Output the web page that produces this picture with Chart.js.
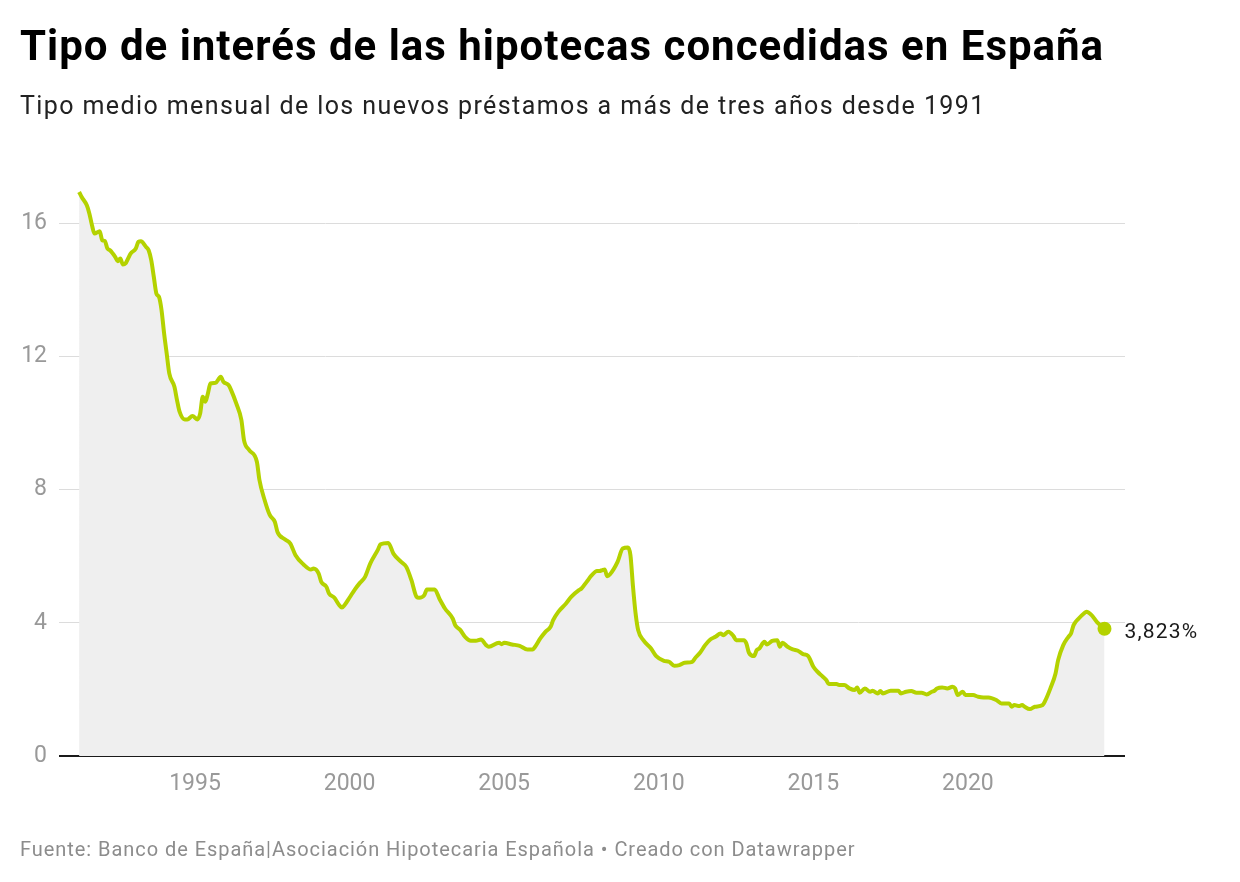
<!DOCTYPE html>
<html>
<head>
<meta charset="utf-8">
<script src="https://cdn.jsdelivr.net/npm/chart.js@4/dist/chart.umd.min.js"></script>
<style>
  html, body { margin: 0; padding: 0; background: #fff; }
  body { width: 1240px; height: 882px; position: relative; overflow: hidden; font-family: Roboto, sans-serif; }
  #chart { position: absolute; left: 0; top: 0; }
  .txt { position: absolute; left: 20px; margin: 0; line-height: 1; white-space: nowrap; }
  #title { top: 25px; font-size: 42px; font-weight: 700; color: #000; letter-spacing: 1px; }
  #subtitle { top: 93px; font-size: 25px; color: #222; letter-spacing: 1.4px; }
  #footer { top: 839px; font-size: 20px; color: #8c8c8c; letter-spacing: 0.95px; }
</style>
</head>
<body>
<canvas id="chart" width="1240" height="882"></canvas>
<h1 class="txt" id="title">Tipo de interés de las hipotecas concedidas en España</h1>
<div class="txt" id="subtitle">Tipo medio mensual de los nuevos préstamos a más de tres años desde 1991</div>
<div class="txt" id="footer">Fuente: Banco de España|Asociación Hipotecaria Española • Creado con Datawrapper</div>
<script>
// meses (AAAA-MM) y tipo medio (%)
const months = [
  "1991-04","1991-05","1991-07","1991-08","1991-09","1991-10","1991-12",
  "1992-01","1992-02","1992-03","1992-04","1992-06","1992-07","1992-08","1992-09","1992-10","1992-11","1992-12",
  "1993-02","1993-03","1993-04","1993-06","1993-07","1993-08","1993-09","1993-10","1993-11","1993-12",
  "1994-01","1994-02","1994-03","1994-05","1994-06","1994-07","1994-09","1994-10","1994-12",
  "1995-02","1995-03","1995-04","1995-05","1995-06","1995-07","1995-09","1995-11","1995-12",
  "1996-02","1996-03","1996-05","1996-07","1996-08","1996-10",
  "1997-01","1997-02","1997-04","1997-06","1997-08","1997-09","1997-12",
  "1998-02","1998-04","1998-07","1998-10","1998-11",
  "1999-01","1999-02","1999-04","1999-05","1999-07","1999-09","1999-10","1999-11",
  "2000-01","2000-03","2000-05","2000-07","2000-09","2000-12",
  "2001-01","2001-04","2001-06","2001-09","2001-11",
  "2002-01","2002-03","2002-04","2002-06","2002-07","2002-10","2002-12",
  "2003-02","2003-05","2003-06","2003-08","2003-10","2003-12",
  "2004-02","2004-04","2004-06","2004-07","2004-11","2004-12",
  "2005-01","2005-04","2005-07","2005-10","2005-12",
  "2006-01","2006-03","2006-05","2006-07","2006-08","2006-10",
  "2007-01","2007-03","2007-06","2007-07","2007-09","2007-11",
  "2008-01","2008-02","2008-03","2008-04","2008-05","2008-06","2008-09","2008-11",
  "2009-01","2009-02","2009-03","2009-04","2009-05","2009-07","2009-10","2009-12",
  "2010-03","2010-05","2010-07","2010-09","2010-11",
  "2011-02","2011-03","2011-05","2011-07","2011-09","2011-11",
  "2012-01","2012-02","2012-04","2012-06","2012-07","2012-10","2012-11","2012-12",
  "2013-02","2013-03","2013-04","2013-06","2013-07","2013-09","2013-11","2013-12",
  "2014-01","2014-03","2014-05","2014-07","2014-09","2014-11",
  "2015-01","2015-03","2015-04","2015-06","2015-07","2015-10","2015-11",
  "2016-01","2016-03","2016-05","2016-06","2016-07","2016-09","2016-11","2016-12",
  "2017-02","2017-03","2017-04","2017-07","2017-10","2017-11",
  "2018-01","2018-03","2018-05","2018-07","2018-09","2018-11","2018-12",
  "2019-01","2019-03","2019-05","2019-07","2019-08","2019-09","2019-11","2019-12",
  "2020-03","2020-05","2020-07","2020-09","2020-12",
  "2021-02","2021-05","2021-06","2021-07","2021-09","2021-10","2021-11",
  "2022-01","2022-03","2022-06","2022-07","2022-09","2022-11","2022-12",
  "2023-02","2023-04","2023-05","2023-06","2023-08","2023-10","2023-11",
  "2024-01","2024-03","2024-06"
]
const rates = [
  16.94,16.79,16.54,16.29,15.94,15.69,15.76,
  15.49,15.47,15.24,15.19,14.99,14.86,14.94,14.76,14.79,14.94,15.09,
  15.24,15.44,15.46,15.29,15.19,14.89,14.39,13.89,13.79,13.39,
  12.69,12.09,11.49,11.09,10.69,10.34,10.11,10.11,10.21,
  10.11,10.29,10.79,10.64,10.89,11.19,11.21,11.39,11.24,
  11.14,10.99,10.59,10.09,9.49,9.19,
  8.84,8.29,7.69,7.24,7.03,6.73,6.50,
  6.38,6.03,5.76,5.60,5.63,
  5.48,5.23,5.08,4.88,4.76,4.53,4.46,4.53,
  4.76,5.00,5.20,5.38,5.78,6.20,
  6.36,6.40,6.08,5.83,5.68,
  5.28,4.78,4.75,4.83,5.00,5.00,4.70,
  4.43,4.13,3.93,3.78,3.56,3.46,
  3.46,3.50,3.33,3.28,3.40,3.36,
  3.40,3.35,3.31,3.20,3.20,
  3.28,3.53,3.73,3.88,4.08,4.33,
  4.58,4.78,4.98,5.03,5.23,5.43,
  5.56,5.56,5.58,5.60,5.40,5.45,5.83,6.23,
  6.26,6.03,5.08,4.28,3.78,3.48,3.23,3.00,
  2.86,2.83,2.71,2.73,2.80,
  2.83,2.93,3.10,3.33,3.50,3.58,
  3.68,3.63,3.73,3.60,3.48,3.48,3.38,3.10,
  3.00,3.18,3.23,3.43,3.35,3.46,3.48,3.28,
  3.40,3.28,3.20,3.16,3.06,3.00,
  2.68,2.50,2.43,2.28,2.16,2.16,2.13,
  2.13,2.03,1.98,2.06,1.90,2.03,1.93,1.96,
  1.88,1.95,1.88,1.96,1.96,1.88,
  1.93,1.95,1.90,1.90,1.85,1.93,1.96,
  2.03,2.06,2.03,2.08,2.03,1.83,1.93,1.83,
  1.83,1.78,1.76,1.76,1.68,
  1.58,1.58,1.48,1.53,1.50,1.53,1.48,
  1.41,1.48,1.53,1.66,2.03,2.48,2.88,
  3.33,3.58,3.68,3.93,4.13,4.28,4.33,
  4.23,4.03,3.823
]
const yearTicks = [1995, 2000, 2005, 2010, 2015, 2020]
const rateTicks = [0, 4, 8, 12, 16]
const lastLabel = "3,823%"

const green = '#b4d200'

// fecha AAAA-MM -> año decimal
const points = months.map((m, i) => {
  let [y, mo] = m.split('-').map(Number)
  return { x: y + (mo - 1) / 12, y: rates[i] }
})

const endLabel = {
  id: 'endLabel',
  afterDatasetsDraw(chart) {
    let meta = chart.getDatasetMeta(0)
    let p = meta.data[meta.data.length - 1]
    let ctx = chart.ctx
    ctx.save()
    ctx.font = '21px Roboto'
    ctx.fillStyle = '#1a1a1a'
    ctx.textBaseline = 'middle'
    if ('letterSpacing' in ctx) ctx.letterSpacing = '1.2px'
    ctx.fillText(lastLabel, p.x + 20, p.y + 4)
    ctx.restore()
  }
}

new Chart(document.getElementById('chart'), {
  type: 'line',
  data: {
    datasets: [{
      data: points,
      borderColor: green,
      borderWidth: 4,
      backgroundColor: '#efefef',
      fill: 'origin',
      cubicInterpolationMode: 'monotone',
      pointRadius: ctx => ctx.dataIndex === points.length - 1 ? 7 : 0,
      pointBackgroundColor: green,
      pointBorderWidth: 0,
      pointHoverRadius: 0
    }]
  },
  options: {
    responsive: false,
    animation: false,
    devicePixelRatio: 1,
    layout: { padding: { left: 0, top: 180, right: 115, bottom: 0 } },
    plugins: { legend: { display: false }, tooltip: { enabled: false } },
    scales: {
      x: {
        type: 'linear',
        min: 1990.6,
        max: 2025.08,
        afterFit: s => { s.height = 126 },
        afterBuildTicks: s => { s.ticks = yearTicks.map(v => ({ value: v })) },
        grid: { display: false, drawTicks: false },
        border: { display: false },
        ticks: {
          padding: 14,
          color: '#999999',
          font: { family: 'Roboto', size: 23 },
          callback: v => String(v),
          maxRotation: 0
        }
      },
      y: {
        min: 0,
        max: 17.3,
        afterFit: s => { s.width = 59 },
        afterBuildTicks: s => { s.ticks = rateTicks.map(v => ({ value: v })) },
        grid: {
          drawTicks: false,
          color: c => c.tick.value === 0 ? '#1a1a1a' : '#dcdcdc',
          lineWidth: c => c.tick.value === 0 ? 2 : 1
        },
        border: { display: false },
        ticks: {
          padding: 12,
          color: '#999999',
          font: { family: 'Roboto', size: 23 }
        }
      }
    }
  },
  plugins: [endLabel]
})
</script>
</body>
</html>
